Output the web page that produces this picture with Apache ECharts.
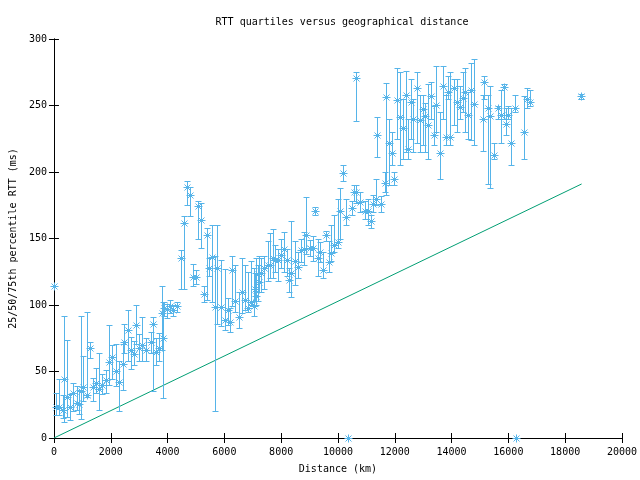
<!DOCTYPE html>
<html><head><meta charset="utf-8">
<script src="https://cdn.jsdelivr.net/npm/echarts@6/dist/echarts.min.js"></script>
<style>html,body{margin:0;padding:0;background:#fff}#c{width:640px;height:480px}</style>
</head><body><div id="c"></div>
<script>
// Distance (km) of each measured pair
const distanceKm = [0,70,190,330,360,445,560,655,800,890,950,1040,1180,1280,1360,1475,1590,1700,1830,1945,2060,2180,2300,2420,2470,2590,2700,2820,2880,2990,3100,3250,3400,3490,3600,3700,3800,3850,3880,3970,4070,4200,4350,4460,4580,4700,4790,4910,5010,5070,5190,5280,5380,5450,5580,5660,5750,5870,6010,6120,6200,6280,6390,6500,6620,6740,6820,6930,7030,7070,7120,7180,7220,7300,7410,7530,7620,7700,7800,7880,7990,8100,8200,8270,8360,8490,8600,8700,8800,8860,9000,9110,9190,9290,9370,9470,9580,9680,9770,9870,10000,10060,10180,10300,10370,10480,10580,10640,10650,10770,10940,11050,11180,11230,11330,11380,11520,11640,11690,11790,11900,11960,12080,12170,12280,12380,12480,12560,12660,12780,12890,12990,13080,13180,13260,13370,13460,13580,13690,13790,13880,13950,14070,14180,14280,14400,14490,14580,14670,14790,15090,15160,15270,15360,15480,15630,15730,15830,15900,16000,16100,16220,16270,16560,16670,16750,18550];
// 25th percentile RTT (ms)
const rttQ25 = [114,17,17,15,12,16,13.5,20,21,18,14,28,31,60,28,34,21,33,34,40,44,39,20,36,64,58,52,55,71,58,58,58,64,35,55,58,66,30,92,90,94,92,95,112,112,175,167,114,116,150,143,102,104,122,102,20,86,84,81,85,80,99,95,83,94,96,95,100,92,103,100,103,110,110,112,118,120,120,125,118,128,125,122,110,106,115,120,132,130,138,137,133,168,122,132,120,148,125,133,140,143,150,193,160,0,168,178,177,238,170,165,160,158,170,175,211,170,185,183,190,205,190,225,205,210,215,210,225,215,222,215,220,215,210,240,220,230,195,240,220,255,220,235,230,240,245,230,225,224,220,216,255,191,188,210,240,222,240,228,240,205,245,0,210,248,250,255];
// Median RTT (ms)
const rttMedian = [114,23,23.5,21,44,31,23.5,33.6,26.5,25.5,35,38.6,32,67.4,38.6,41,37,40,43.6,57,60.6,50.6,42.3,56,72,81,66,63,85,68,70,66,72,86,65,68,94,75,97.5,96.7,99,96,99,135,162,188.5,182.7,121,121,174.4,164,108,153,127.6,136,98.7,127.6,98.7,89,96,87,126,103,91,109.7,104,98,102,99,112,107,123,117,124,128,130,130,135,133.6,133.6,137.5,142,133.6,119,124,133,128.6,141,142,152.6,143,143,171,135,140,126,153,132,139,145,147,171,199.5,166,0,172.6,185,185,271,177.7,171,171,163,176,180,228,176,192,256.6,221.6,214,194.7,254,241.6,233,258,217.6,253,240,263,239,247,242,235,257,228,250.6,214,265,226,260,226.5,263,252.5,249,256,260,243,262,251,240,268,248,242,213,248,243,264,236,243,222,248,0,230,255,253,257];
// 75th percentile RTT (ms)
const rttQ75 = [114,34,44,32,92,74,33,41,39,36,92,62,95,72,45,53,64,48,51,85,70,71,58,71,86,96,76,73,100,78,91,75,80,91,75,79,114,102,102,101,104,100,102,141,167,193,189,131,126,178,177,114,158,135,160,137,160,134,127,105,98,137,130,110,135,130,125,133,128,124,135,130,137,135,137,148,154,157,145,142,150,155,142,128,163,148,140,150,155,181,149,152,174,150,147,140,156,148,160,168,180,188,205,180,0,178,190,190,275,185,178,180,168,183,195,241,182,200,267,240,230,200,278,275,255,276,240,270,255,275,258,258,252,266,268,250,280,245,280,258,272,275,270,270,265,275,278,260,282,285,258,272,258,265,222,250,262,266,248,250,248,258,0,257,263,262,259];
// Reference line (propagation lower bound)
const refLineKm = [0, 18580];
const refLineMs = [0, 191];
// Axis ticks
const xTickMin = 0, xTickMax = 20000, xTickStep = 2000;
const yTickMin = 0, yTickMax = 300, yTickStep = 50;

const FONT = 'DejaVu Sans Mono';
const BLUE = '#56b4e9';
const GREEN = '#009e73';

const quartileData = distanceKm.map((d, i) => [d, rttQ25[i], rttMedian[i], rttQ75[i]]);
const refData = refLineKm.map((d, i) => [d, refLineMs[i]]);

function renderItem(params, api) {
  const x = api.value(0);
  const lo = api.value(1), med = api.value(2), hi = api.value(3);
  const pLo = api.coord([x, lo]);
  const pMed = api.coord([x, med]);
  const pHi = api.coord([x, hi]);
  const cx = Math.round(pMed[0]) + 0.5;
  const cy = Math.round(pMed[1]) + 0.5;
  const st = { stroke: BLUE, lineWidth: 1, fill: null };
  const ch = [];
  if (hi > lo) {
    const yh = Math.round(pHi[1]) + 0.5, yl = Math.round(pLo[1]) + 0.5;
    ch.push({ type: 'line', shape: { x1: cx, y1: yh, x2: cx, y2: yl }, style: st });
    ch.push({ type: 'line', shape: { x1: cx - 3, y1: yh, x2: cx + 3, y2: yh }, style: st });
    ch.push({ type: 'line', shape: { x1: cx - 3, y1: yl, x2: cx + 3, y2: yl }, style: st });
  }
  const r = 4, d = 3;
  ch.push({ type: 'line', shape: { x1: cx - r, y1: cy, x2: cx + r, y2: cy }, style: st });
  ch.push({ type: 'line', shape: { x1: cx, y1: cy - r, x2: cx, y2: cy + r }, style: st });
  ch.push({ type: 'line', shape: { x1: cx - d, y1: cy - d, x2: cx + d, y2: cy + d }, style: st });
  ch.push({ type: 'line', shape: { x1: cx - d, y1: cy + d, x2: cx + d, y2: cy - d }, style: st });
  return { type: 'group', children: ch };
}

const axisLineStyle = { show: true, lineStyle: { color: '#000', width: 1 } };
const tickStyle = { show: true, inside: true, length: 5, lineStyle: { color: '#000', width: 1 } };
const labelStyle = { color: '#000', fontFamily: FONT, fontSize: 10 };
const plainNum = v => String(v);

const chart = echarts.init(document.getElementById('c'), null, { renderer: 'canvas' });
chart.setOption({
  animation: false,
  backgroundColor: '#fff',
  title: {
    text: 'RTT quartiles versus geographical distance',
    left: 337, top: 12, textAlign: 'center',
    textStyle: { color: '#000', fontFamily: FONT, fontSize: 10, fontWeight: 'normal' }
  },
  grid: { left: 53, right: 18, top: 39, bottom: 42, containLabel: false },
  xAxis: [
    {
      type: 'value', position: 'bottom', min: xTickMin, max: xTickMax, interval: xTickStep,
      name: 'Distance (km)', nameLocation: 'middle', nameGap: 26,
      nameTextStyle: labelStyle,
      axisLine: axisLineStyle, axisTick: tickStyle, splitLine: { show: false },
      axisLabel: Object.assign({ margin: 9, formatter: plainNum }, labelStyle)
    },
    {
      type: 'value', position: 'top', min: xTickMin, max: xTickMax, interval: xTickStep,
      axisLine: axisLineStyle, axisTick: tickStyle, splitLine: { show: false },
      axisLabel: { show: false }
    }
  ],
  yAxis: [
    {
      type: 'value', position: 'left', min: yTickMin, max: yTickMax, interval: yTickStep,
      name: '25/50/75th percentile RTT (ms)', nameLocation: 'middle', nameGap: 31,
      nameTextStyle: labelStyle,
      axisLine: axisLineStyle, axisTick: tickStyle, splitLine: { show: false },
      axisLabel: Object.assign({ margin: 7, formatter: plainNum }, labelStyle)
    },
    {
      type: 'value', position: 'right', min: yTickMin, max: yTickMax, interval: yTickStep,
      axisLine: axisLineStyle, axisTick: tickStyle, splitLine: { show: false },
      axisLabel: { show: false }
    }
  ],
  series: [
    {
      type: 'line', data: refData, xAxisIndex: 0, yAxisIndex: 0,
      showSymbol: false, symbol: 'none',
      lineStyle: { color: GREEN, width: 1 }, silent: true, z: 2
    },
    {
      type: 'custom', data: quartileData, xAxisIndex: 0, yAxisIndex: 0,
      renderItem: renderItem, clip: false,
      encode: { x: 0, y: [1, 2, 3] }, z: 3
    }
  ]
});
</script>
</body></html>
